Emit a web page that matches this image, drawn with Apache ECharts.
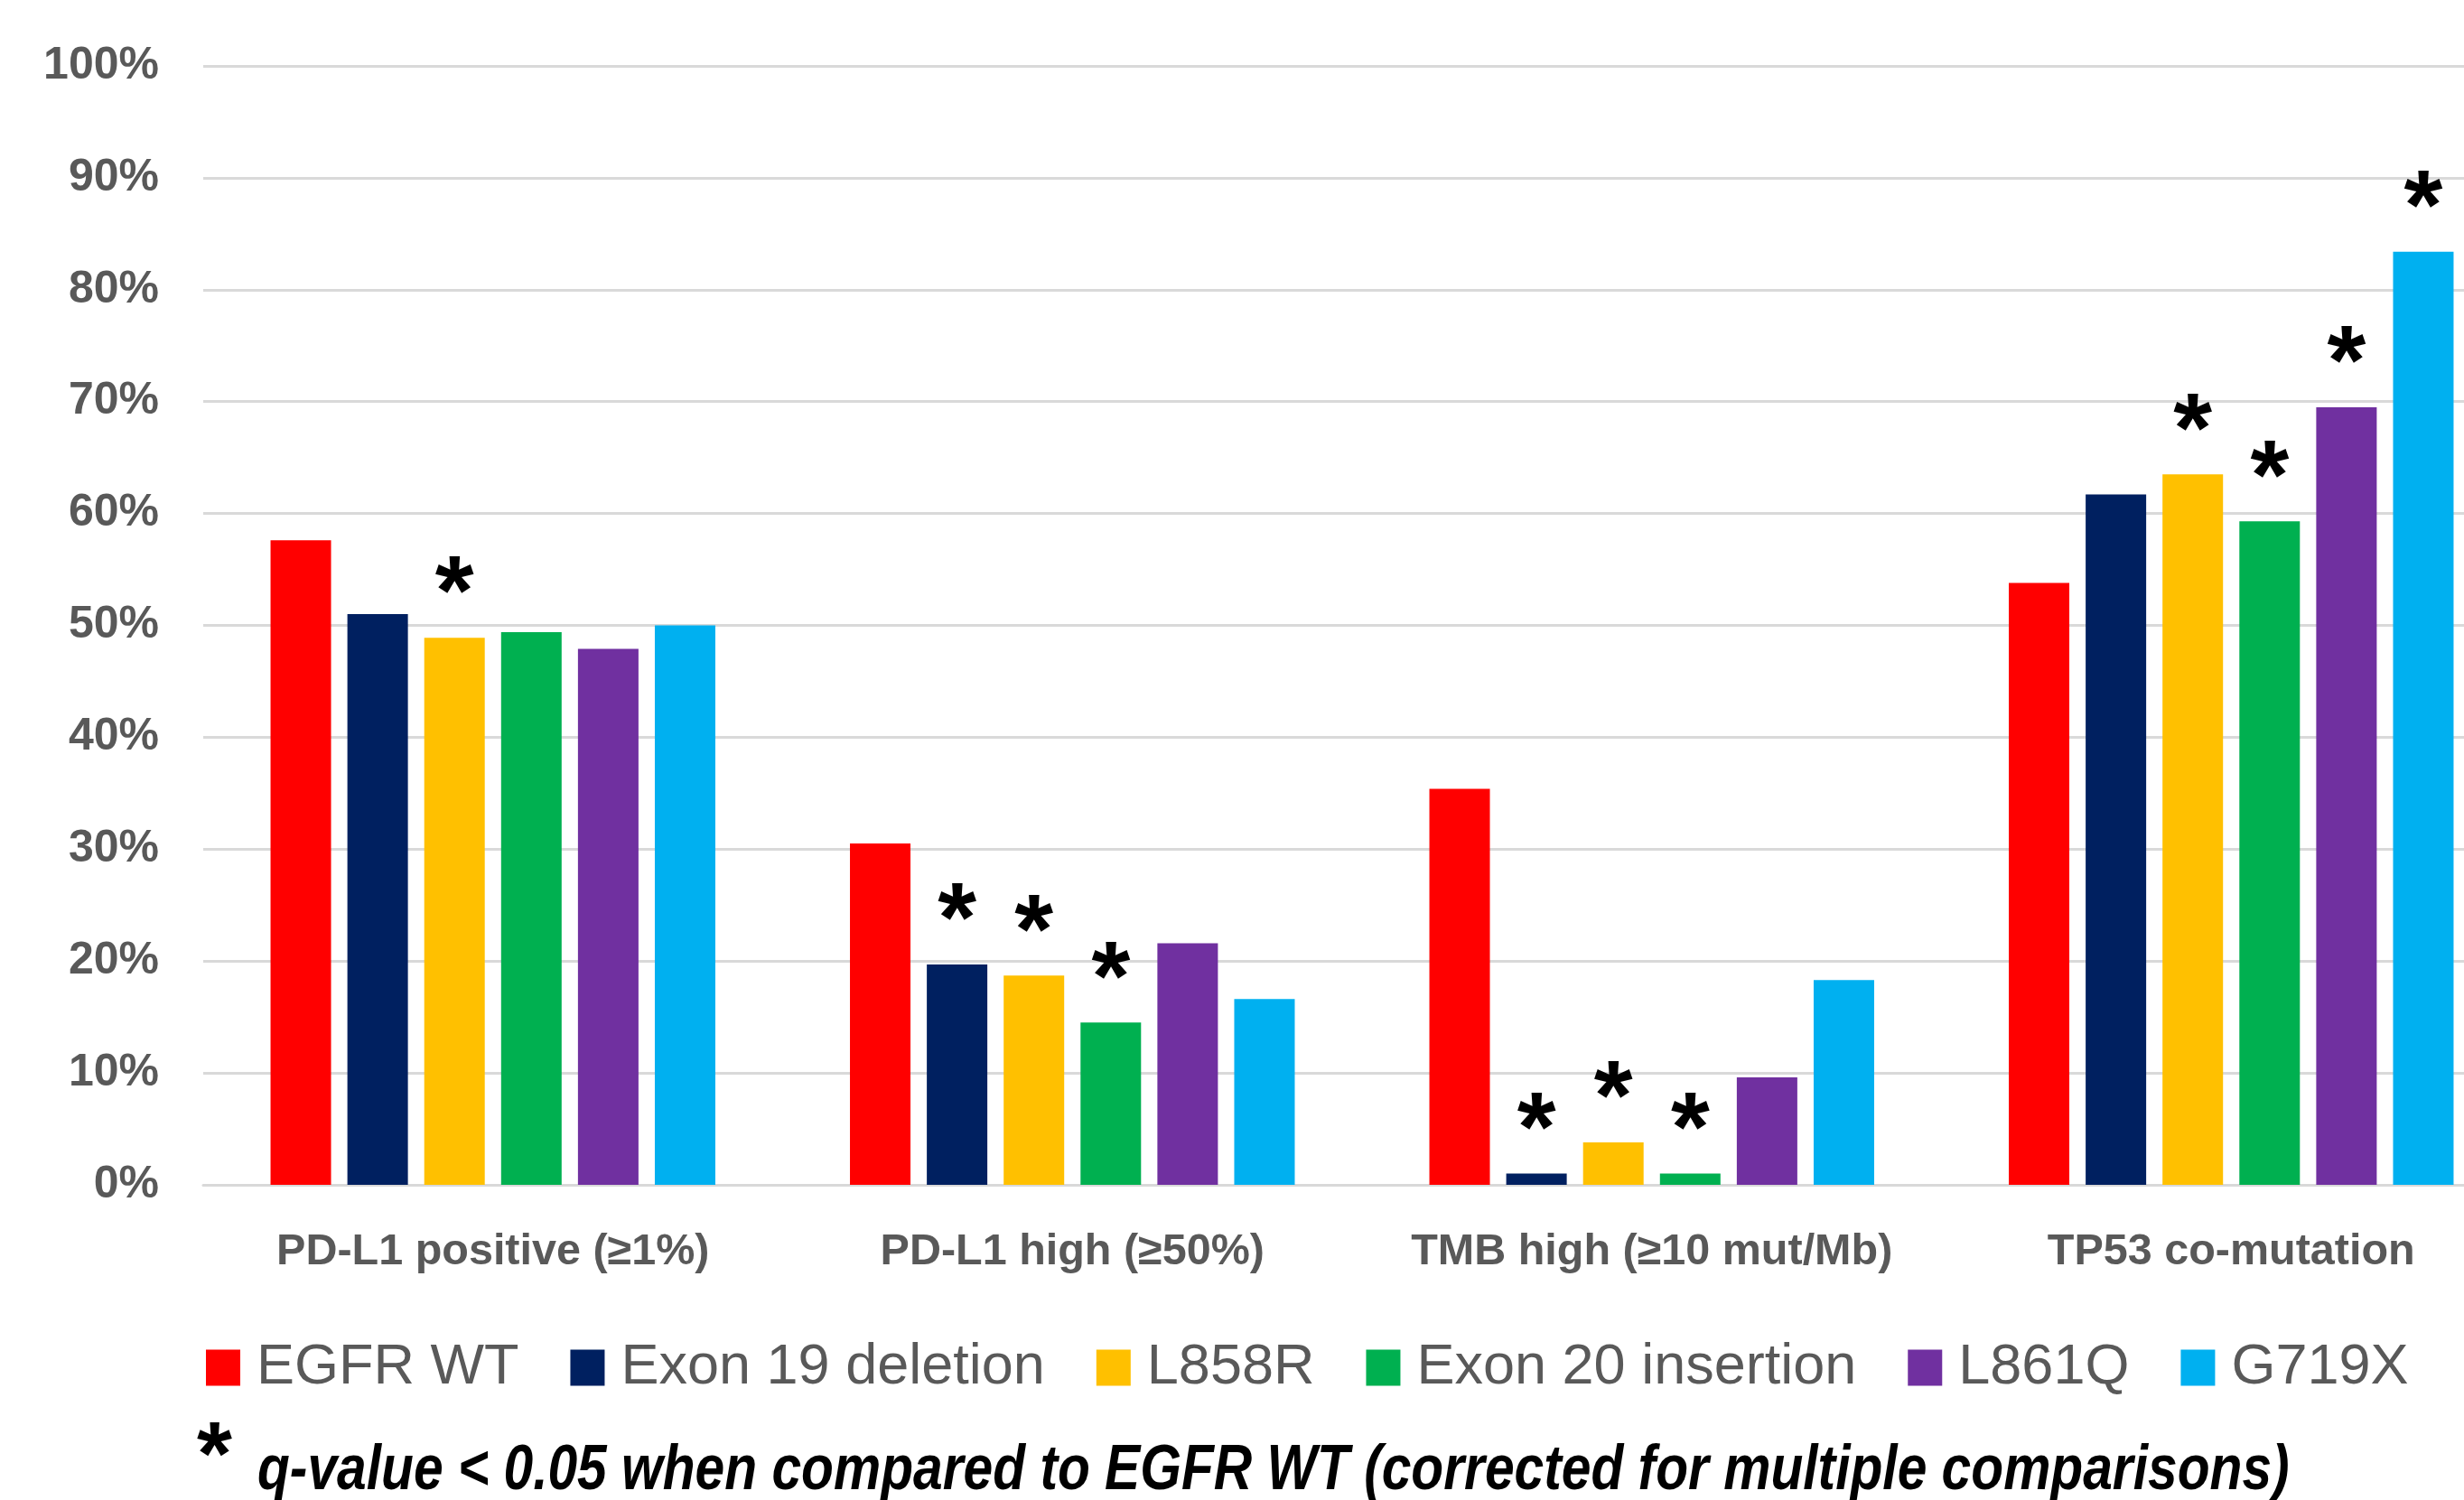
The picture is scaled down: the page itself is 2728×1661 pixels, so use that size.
<!DOCTYPE html>
<html>
<head>
<meta charset="utf-8">
<script src="https://cdn.jsdelivr.net/npm/echarts@6/dist/echarts.min.js"></script>
<style>
html,body{margin:0;padding:0;background:#fff;overflow:hidden;width:2728px;height:1661px;}
#chart{width:2791px;height:1661px;}
</style>
</head>
<body>
<div id="chart"></div>
<script>
const categories = ['PD-L1 positive (≥1%)', 'PD-L1 high (≥50%)', 'TMB high (≥10 mut/Mb)', 'TP53 co-mutation'];
const seriesNames = ['EGFR WT', 'Exon 19 deletion', 'L858R', 'Exon 20 insertion', 'L861Q', 'G719X'];
const seriesColors = ['#FF0000', '#002060', '#FFC000', '#00B050', '#7030A0', '#00B0F0'];
const egfrWT   = [57.6, 30.5, 35.4, 53.8];
const exon19   = [51.0, 19.7, 1.0, 61.7];
const l858r    = [48.9, 18.7, 3.8, 63.5];
const exon20   = [49.4, 14.5, 1.0, 59.3];
const l861q    = [47.9, 21.6, 9.6, 69.5];
const g719x    = [50.0, 16.6, 18.3, 83.4];
const sigEgfrWT = [false, false, false, false];
const sigExon19 = [false, true, true, false];
const sigL858r  = [true, true, true, true];
const sigExon20 = [false, true, true, true];
const sigL861q  = [false, false, false, true];
const sigG719x  = [false, false, false, true];
const yTicks = [0, 10, 20, 30, 40, 50, 60, 70, 80, 90, 100];
const footnote = 'q-value < 0.05 when compared to EGFR WT (corrected for multiple comparisons)';

const values = [egfrWT, exon19, l858r, exon20, l861q, g719x];
const sigs = [sigEgfrWT, sigExon19, sigL858r, sigExon20, sigL861q, sigG719x];

const chart = echarts.init(document.getElementById('chart'), null, {renderer: 'canvas'});
const FONT = '"Liberation Sans", Arial, sans-serif';

const series = seriesNames.map((name, i) => ({
  name: name,
  type: 'bar',
  barWidth: 67,
  barGap: '27%',
  itemStyle: {color: seriesColors[i]},
  label: {
    show: false,
    position: 'top',
    distance: 0,
    offset: [0, 10],
    formatter: '*',
    color: '#000',
    fontSize: 110,
    fontWeight: 'bold',
    fontFamily: FONT
  },
  data: values[i].map((v, j) => sigs[i][j] ? {value: v, label: {show: true}} : {value: v})
}));

chart.setOption({
  animation: false,
  backgroundColor: '#fff',
  color: seriesColors,
  grid: {left: 225, top: 73, right: 0, height: 1239, containLabel: false},
  xAxis: {
    type: 'category',
    data: categories,
    axisLine: {show: true, lineStyle: {color: '#d9d9d9', width: 3}},
    axisTick: {show: false},
    axisLabel: {
      interval: 0,
      color: '#595959', fontSize: 48.5, fontWeight: 'bold', fontFamily: FONT, margin: 50
    }
  },
  yAxis: {
    type: 'value',
    min: yTicks[0],
    max: yTicks[yTicks.length - 1],
    interval: 10,
    axisLine: {show: false},
    axisTick: {show: false},
    splitLine: {lineStyle: {color: '#d9d9d9', width: 3}},
    axisLabel: {
      formatter: '{value}%', color: '#595959', fontSize: 50, fontWeight: 'bold', fontFamily: FONT, margin: 49
    }
  },
  legend: {
    data: seriesNames,
    left: 223,
    top: 1478,
    itemWidth: 38,
    itemHeight: 40,
    itemGap: 57,
    icon: 'rect',
    textStyle: {color: '#595959', fontSize: 63, fontFamily: FONT, padding: [0, 0, 0, 13]}
  },
  graphic: [
    {
      type: 'text', left: 218, top: 1566,
      style: {text: '*', fontSize: 100, fontWeight: 'bold', fontFamily: FONT, fill: '#000'}
    },
    {
      type: 'text', x: 285, y: 1594, scaleX: 0.827,
      style: {text: footnote, fontSize: 71, fontWeight: 'bold', fontStyle: 'italic', fontFamily: FONT, fill: '#000'}
    }
  ],
  series: series
});
</script>
</body>
</html>
